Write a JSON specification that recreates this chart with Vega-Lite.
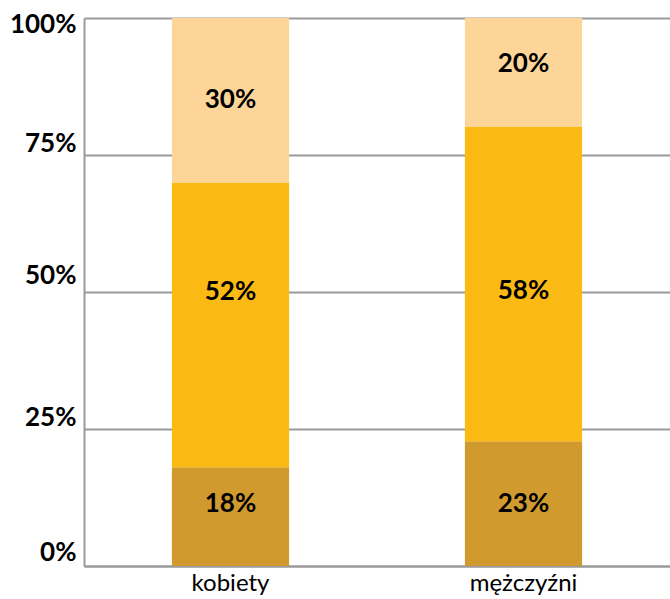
{
  "$schema": "https://vega.github.io/schema/vega-lite/v6.json",
  "width": 586,
  "height": 548,
  "autosize": {"type": "none"},
  "padding": {"left": 84, "top": 18, "right": 0, "bottom": 33},
  "background": "white",
  "config": {"view": {"stroke": null}, "font": "Lato"},
  "data": {
    "values": [
      {"grupa": "kobiety", "kat": "a", "ord": 1, "v": 18, "lab": "18%"},
      {"grupa": "kobiety", "kat": "b", "ord": 2, "v": 52, "lab": "52%"},
      {"grupa": "kobiety", "kat": "c", "ord": 3, "v": 30, "lab": "30%"},
      {"grupa": "mężczyźni", "kat": "a", "ord": 1, "v": 23, "lab": "23%"},
      {"grupa": "mężczyźni", "kat": "b", "ord": 2, "v": 58, "lab": "58%"},
      {"grupa": "mężczyźni", "kat": "c", "ord": 3, "v": 20, "lab": "20%"}
    ]
  },
  "transform": [
    {"stack": "v", "groupby": ["grupa"], "sort": [{"field": "ord", "order": "ascending"}], "as": ["y0", "y1"], "offset": "normalize"},
    {"calculate": "(datum.y0 + datum.y1) / 2", "as": "ym"}
  ],
  "encoding": {
    "x": {
      "field": "grupa", "type": "nominal", "sort": ["kobiety", "mężczyźni"],
      "scale": {"paddingInner": 0.6, "paddingOuter": 0.3},
      "axis": {"title": null, "labelAngle": 0, "labelFont": "Lato", "labelFontSize": 24, "labelColor": "#000", "labelPadding": 5, "ticks": false, "domainColor": "#999", "domainWidth": 2}
    }
  },
  "layer": [
    {
      "mark": {"type": "bar"},
      "encoding": {
        "y": {
          "field": "y0", "type": "quantitative", "scale": {"domain": [0, 1]},
          "axis": {
            "title": null, "values": [0, 0.25, 0.5, 0.75, 1], "format": ".0%",
            "labelFont": "Lato", "labelFontSize": 26, "labelFontWeight": "bold", "labelColor": "#000",
            "labelPadding": 8, "ticks": false, "domainColor": "#999", "domainWidth": 2,
            "grid": true, "gridColor": "#999", "gridWidth": 2,
            "labelOffset": {"expr": "datum.value == 1 ? 6 : datum.value == 0.75 ? -12 : datum.value == 0.5 ? -17 : datum.value == 0.25 ? -12 : -14"}
          }
        },
        "y2": {"field": "y1"},
        "color": {
          "field": "kat", "type": "nominal", "legend": null,
          "scale": {"domain": ["a", "b", "c"], "range": ["#D09A2E", "#FBB913", "#FDD598"]}
        }
      }
    },
    {
      "mark": {
        "type": "text", "font": "Lato", "fontSize": 26, "fontWeight": "bold", "color": "#000", "baseline": "middle",
        "dy": {"expr": "datum.lab == '52%' ? -33 : datum.lab == '58%' ? 7 : datum.lab == '20%' ? -8 : datum.lab == '18%' ? -13 : 0"}
      },
      "encoding": {
        "y": {"field": "ym", "type": "quantitative"},
        "text": {"field": "lab"}
      }
    }
  ]
}
